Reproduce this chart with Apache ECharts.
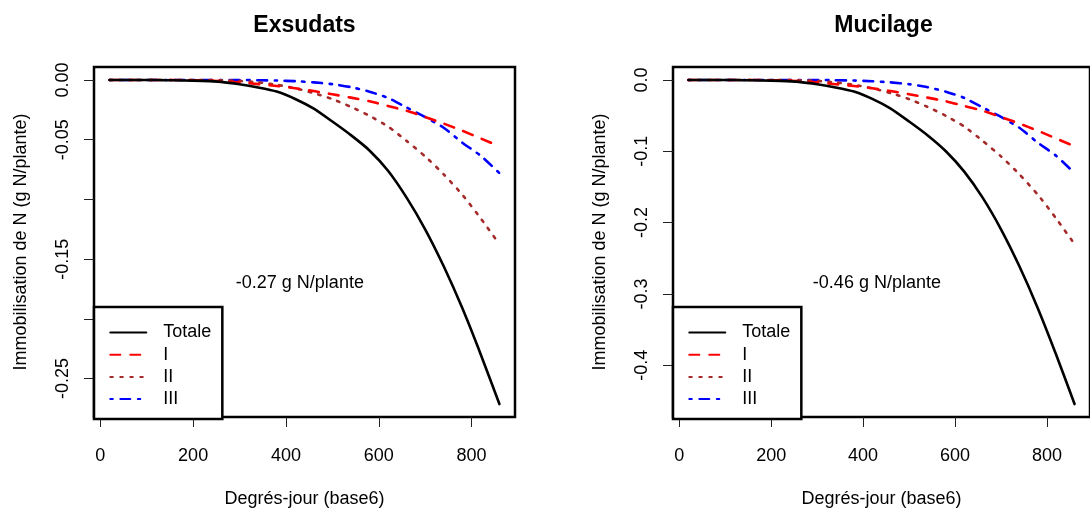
<!DOCTYPE html>
<html><head><meta charset="utf-8">
<script src="https://cdn.jsdelivr.net/npm/echarts@6/dist/echarts.min.js"></script>
<style>html,body{margin:0;padding:0;background:#fff}#c{width:1090px;height:513px}</style>
</head><body><div id="c"></div>
<script>
// ---- data ----
const degreeDays = [20,60,100,140,180,220,260,300,340,380,420,460,500,540,580,620,660,700,740,780,820,860];

const exsTotale = [0,0,0,-0.0002,-0.0004,-0.0008,-0.0016,-0.0036,-0.0063,-0.0097,-0.0159,-0.0240,-0.0348,-0.0462,-0.0590,-0.0760,-0.0985,-0.1250,-0.1560,-0.1910,-0.2300,-0.2713];
const exsI      = [0,0,0,0,-0.0001,-0.0004,-0.0010,-0.0020,-0.0035,-0.0050,-0.0070,-0.0093,-0.0120,-0.0148,-0.0178,-0.0218,-0.0258,-0.0310,-0.0365,-0.0425,-0.0490,-0.0555];
const exsII     = [0,0,0,0,0,0,-0.0003,-0.0008,-0.0020,-0.0040,-0.0070,-0.0110,-0.0160,-0.0225,-0.0300,-0.0390,-0.0510,-0.0640,-0.0790,-0.0960,-0.1160,-0.1375];
const exsIII    = [0,0,0,0,0,0,0,0,-0.0002,-0.0005,-0.0010,-0.0020,-0.0035,-0.0060,-0.0098,-0.0150,-0.0230,-0.0310,-0.0400,-0.0525,-0.0635,-0.0780];

const mucTotale = [0,0,0,-0.0003,-0.0007,-0.0013,-0.0027,-0.0060,-0.0105,-0.0162,-0.0266,-0.0402,-0.0583,-0.0775,-0.1000,-0.1285,-0.1650,-0.2094,-0.2613,-0.3200,-0.3853,-0.4545];
const mucI      = [0,0,0,0,-0.0002,-0.0007,-0.0017,-0.0034,-0.0059,-0.0084,-0.0117,-0.0156,-0.0201,-0.0248,-0.0298,-0.0365,-0.0432,-0.0519,-0.0611,-0.0712,-0.0821,-0.0930];
const mucII     = [0,0,0,0,0,0,-0.0005,-0.0013,-0.0034,-0.0067,-0.0117,-0.0184,-0.0268,-0.0377,-0.0503,-0.0653,-0.0854,-0.1072,-0.1323,-0.1608,-0.1943,-0.2303];
const mucIII    = [0,0,0,0,0,0,0,0,-0.0003,-0.0008,-0.0017,-0.0034,-0.0059,-0.0101,-0.0164,-0.0251,-0.0385,-0.0519,-0.0670,-0.0879,-0.1064,-0.1307];

const seriesNames = ['Totale','I','II','III'];
const panelTitles = ['Exsudats','Mucilage'];
const xTitle = 'Degrés-jour (base6)';
const yTitle = 'Immobilisation de N (g N/plante)';
const xTicks = [0,200,400,600,800];
const yTicksExs = [0,-0.05,-0.10,-0.15,-0.20,-0.25];
const yLabelsExs = [0,-0.05,-0.15,-0.25];
const yTicksMuc = [0,-0.1,-0.2,-0.3,-0.4];
const yLabelsMuc = [0,-0.1,-0.2,-0.3,-0.4];
const annotTexts = ['-0.27 g N/plante','-0.46 g N/plante'];
const annotX = [430,430];
const annotY = [-0.17,-0.285];

// ---- layout / style ----
const FONT = '"Liberation Sans", Arial, Helvetica, sans-serif';
const gridLeft = [94, 673];
const gridTop = 67, gridW = 421, gridH = 352;
const styles = {
  Totale: {color:'#000000', type:'solid'},
  I:      {color:'#FF0000', type:[10,10]},
  II:     {color:'#A52A2A', type:[2.5,7.5]},
  III:    {color:'#0000FF', type:[2.5,7.5,10,7.5]}
};

function rExtent(arrs){
  let mn = Infinity, mx = -Infinity;
  arrs.forEach(a => a.forEach(v => { if (v < mn) mn = v; if (v > mx) mx = v; }));
  const r = mx - mn;
  return [mn - 0.04*r, mx + 0.04*r];
}

const panels = [
  {vals:[exsTotale,exsI,exsII,exsIII], yTicks:yTicksExs, yLabels:yLabelsExs, dec:2},
  {vals:[mucTotale,mucI,mucII,mucIII], yTicks:yTicksMuc, yLabels:yLabelsMuc, dec:1}
];

const option = {
  animation:false,
  backgroundColor:'#fff',
  title:[], grid:[], xAxis:[], yAxis:[], series:[], legend:[]
};

const xExt = rExtent([degreeDays]);

panels.forEach((p, i) => {
  const yExt = rExtent(p.vals);
  const cx = gridLeft[i] + gridW/2;
  option.title.push({
    text: panelTitles[i], left: cx, top: 14, textAlign:'center', padding:0,
    textStyle:{fontFamily:FONT, fontSize:23, fontWeight:'bold', color:'#000'}
  });
  option.grid.push({
    left: gridLeft[i], top: gridTop, width: gridW, height: gridH,
    show:true, borderColor:'#000', borderWidth:2.5, backgroundColor:'#fff', containLabel:false
  });
  option.xAxis.push({
    type:'value', gridIndex:i, min:xExt[0], max:xExt[1],
    name: xTitle, nameLocation:'middle', nameGap:73,
    nameTextStyle:{fontFamily:FONT, fontSize:18, color:'#000'},
    axisLine:{show:false, onZero:false},
    splitLine:{show:false},
    axisTick:{show:true, inside:false, length:10, customValues:xTicks, lineStyle:{color:'#222', width:1}},
    axisLabel:{show:true, margin:30, customValues:xTicks, fontFamily:FONT, fontSize:18, color:'#000',
               formatter: v => String(v)}
  });
  option.yAxis.push({
    type:'value', gridIndex:i, min:yExt[0], max:yExt[1],
    name: yTitle, nameLocation:'middle', nameGap:64,
    nameTextStyle:{fontFamily:FONT, fontSize:18, color:'#000'},
    axisLine:{show:false, onZero:false},
    splitLine:{show:false},
    axisTick:{show:true, inside:false, length:10, customValues:p.yTicks, lineStyle:{color:'#222', width:1}},
    axisLabel:{show:true, rotate:90, margin:22, customValues:p.yLabels, fontFamily:FONT, fontSize:18, color:'#000',
               formatter: v => Number(v).toFixed(p.dec)}
  });
  seriesNames.forEach((nm, k) => {
    const st = styles[nm];
    option.series.push({
      type:'line', name:nm, xAxisIndex:i, yAxisIndex:i,
      data: degreeDays.map((x, j) => [x, p.vals[k][j]]),
      symbol:'none', smooth:0.2, silent:true, z: 10 - k,
      lineStyle:{color:st.color, width:2.6, type:st.type, cap:'round', join:'round'},
      itemStyle:{color:st.color}
    });
  });
  option.series.push({
    type:'scatter', name:'annot'+i, xAxisIndex:i, yAxisIndex:i, silent:true, z:20,
    data:[[annotX[i], annotY[i]]], symbolSize:0, itemStyle:{color:'#000'},
    label:{show:true, position:'inside', formatter:annotTexts[i], fontFamily:FONT, fontSize:18,
           color:'#000', textBorderWidth:0, opacity:1}
  });
  option.legend.push({
    left: gridLeft[i], top: 307, orient:'vertical', data: seriesNames.slice(),
    itemWidth:36, itemHeight:18, itemGap:4.2, padding:[16.5,11,11,15.3],
    borderColor:'#000', borderWidth:2.5, backgroundColor:'#fff', selectedMode:false,
    itemStyle:{color:'rgba(0,0,0,0)', borderWidth:0, opacity:0},
    textStyle:{fontFamily:FONT, fontSize:18, lineHeight:18, color:'#000', padding:[0,0,0,12]}
  });
});

const chart = echarts.init(document.getElementById('c'), null, {renderer:'canvas'});
chart.setOption(option);
</script>
</body></html>
